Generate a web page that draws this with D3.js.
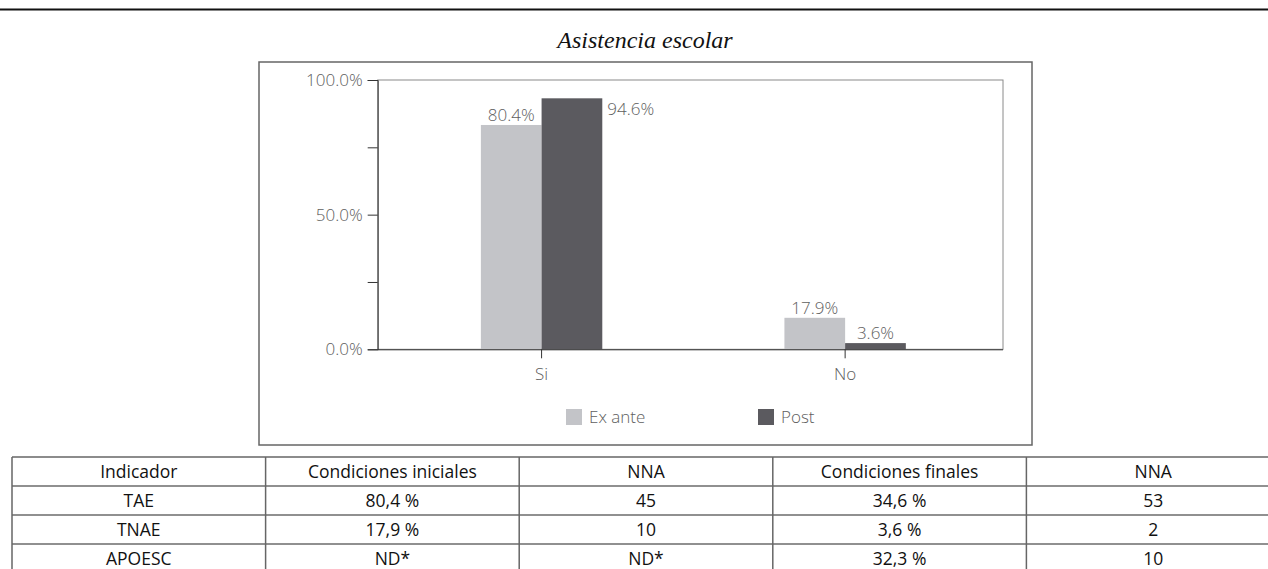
<!DOCTYPE html>
<html>
<head>
<meta charset="utf-8">
<style>
	body { margin: 0; background: #fff; }
	svg { position: absolute; top: 0; left: 0; }
	.lbl { font-family: "Open Sans", sans-serif; font-weight: 300; font-size: 17px; fill: #5e5e5e; }
	.cell { font-family: "Open Sans", sans-serif; font-size: 17.5px; fill: #111; }
</style>
<script src="https://cdnjs.cloudflare.com/ajax/libs/d3/7.8.5/d3.min.js"></script>
</head>
<body>
<svg width="1268" height="569"></svg>
<script>
// chart data
var categories = ["Si", "No"];
var series = ["Ex ante", "Post"];
var exAnte = [83.3, 11.7];       // bar heights as drawn
var post = [93.2, 2.3];
var exAnteLabels = ["80.4%", "17.9%"];  // printed labels
var postLabels = ["94.6%", "3.6%"];
var yTicks = [0, 25, 50, 75, 100];

// table data
var tableHeader = ["Indicador", "Condiciones iniciales", "NNA", "Condiciones finales", "NNA"];
var tableRows = [
	["TAE", "80,4 %", "45", "34,6 %", "53"],
	["TNAE", "17,9 %", "10", "3,6 %", "2"],
	["APOESC", "ND*", "ND*", "32,3 %", "10"]
];

var colors = d3.scaleOrdinal().domain(series).range(["#c3c4c8", "#5b5a5f"]);

var svg = d3.select("svg"),
	width = +svg.attr("width");

// rule at top
svg.append("line").attr("x1", 0).attr("x2", width).attr("y1", 9.5).attr("y2", 9.5)
	.attr("stroke", "#111").attr("stroke-width", 2);

svg.append("text")
	.attr("x", 645).attr("y", 48)
	.attr("text-anchor", "middle")
	.style("font-family", "'Liberation Serif', serif")
	.style("font-style", "italic")
	.style("font-size", "24px")
	.style("fill", "#111")
	.text("Asistencia escolar");

// outer frame
svg.append("rect").attr("x", 259).attr("y", 62).attr("width", 773).attr("height", 383)
	.attr("fill", "none").attr("stroke", "#666").attr("stroke-width", 1.5);

var plot = {left: 377.7, right: 1003, top: 80, bottom: 349.3};

var y = d3.scaleLinear().domain([0, 100]).range([plot.bottom, plot.top]);
var x0 = d3.scaleBand().domain(categories).range([plot.left, plot.right])
	.paddingInner(0.6).paddingOuter(0.33).align(0.515);
var x1 = d3.scaleBand().domain(series).range([0, x0.bandwidth()]);

// plot frame
svg.append("rect").attr("x", plot.left).attr("y", plot.top)
	.attr("width", plot.right - plot.left).attr("height", plot.bottom - plot.top)
	.attr("fill", "none").attr("stroke", "#8a8a8a").attr("stroke-width", 1);

var data = categories.map(function(c, i) {
	return [
		{cat: c, s: series[0], v: exAnte[i], label: exAnteLabels[i]},
		{cat: c, s: series[1], v: post[i], label: postLabels[i]}
	];
});

var groups = svg.append("g").selectAll("g").data(data).enter().append("g")
	.attr("transform", function(d, i) { return "translate(" + x0(categories[i]) + ",0)"; });

groups.selectAll("rect").data(function(d) { return d; }).enter().append("rect")
	.attr("x", function(d) { return x1(d.s); })
	.attr("y", function(d) { return y(d.v); })
	.attr("width", x1.bandwidth())
	.attr("height", function(d) { return y(0) - y(d.v); })
	.attr("fill", function(d) { return colors(d.s); });

// value labels; the tall Post bar has its label beside it
groups.selectAll("text").data(function(d) { return d; }).enter().append("text")
	.attr("class", "lbl")
	.attr("x", function(d) {
		return d.v > 90 ? x1(d.s) + x1.bandwidth() + 5 : x1(d.s) + x1.bandwidth() / 2;
	})
	.attr("y", function(d) { return d.v > 90 ? y(d.v) + 17 : y(d.v) - 4; })
	.attr("text-anchor", function(d) { return d.v > 90 ? "start" : "middle"; })
	.text(function(d) { return d.label; });

// axes
var yAxis = svg.append("g").attr("transform", "translate(" + plot.left + ",0)")
	.call(d3.axisLeft(y).tickValues(yTicks).tickSize(10).tickPadding(5)
		.tickFormat(function(d) { return d % 50 === 0 ? d.toFixed(1) + "%" : ""; }));
var xAxis = svg.append("g").attr("transform", "translate(0," + plot.bottom + ")")
	.call(d3.axisBottom(x0).tickSize(9).tickPadding(10).tickSizeOuter(0));

[yAxis, xAxis].forEach(function(a) {
	a.select(".domain").attr("stroke", "#333");
	a.selectAll(".tick line").attr("stroke", "#333");
	a.selectAll(".tick text").attr("class", "lbl").attr("fill", null).style("font-size", null).style("font-family", null);
	a.attr("font-family", null).attr("font-size", null);
});
xAxis.select(".domain").attr("d", "M" + plot.left + ",0.5H" + plot.right);

// legend
var legendX = d3.scalePoint().domain(series).range([566, 758]);
var legend = svg.append("g").selectAll("g").data(series).enter().append("g")
	.attr("transform", function(d) { return "translate(" + legendX(d) + ",409)"; });
legend.append("rect").attr("width", 16).attr("height", 16).attr("fill", function(d) { return colors(d); });
legend.append("text").attr("class", "lbl").attr("x", 23).attr("y", 14).text(function(d) { return d; });

// table
var colX = d3.scaleBand().domain(d3.range(tableHeader.length)).range([12, 1280]);
var allRows = [tableHeader].concat(tableRows);
var rowY = d3.scaleBand().domain(d3.range(allRows.length)).range([457, 457 + 29 * allRows.length]);
var table = svg.append("g");

table.selectAll(".hline").data(d3.range(1, allRows.length)).enter().append("line")
	.attr("x1", 12).attr("x2", 1280)
	.attr("y1", function(d) { return rowY(d); }).attr("y2", function(d) { return rowY(d); })
	.attr("stroke", "#222").attr("stroke-width", 1.2);
table.append("line").attr("x1", 12).attr("x2", 1280).attr("y1", 457).attr("y2", 457)
	.attr("stroke", "#666").attr("stroke-width", 1.5);
table.selectAll(".vline").data(d3.range(tableHeader.length)).enter().append("line")
	.attr("x1", function(d) { return colX(d); }).attr("x2", function(d) { return colX(d); })
	.attr("y1", 457).attr("y2", 457 + 29 * allRows.length)
	.attr("stroke", "#666").attr("stroke-width", 1.5);

table.selectAll(".row").data(allRows).enter().append("g")
	.each(function(row, ri) {
		d3.select(this).selectAll("text").data(row).enter().append("text")
			.attr("class", "cell")
			.attr("x", function(d, ci) { return colX(ci) + colX.bandwidth() / 2; })
			.attr("y", rowY(ri) + rowY.bandwidth() / 2)
			.attr("dy", "0.35em")
			.attr("text-anchor", "middle")
			.text(function(d) { return d; });
	});
</script>
</body>
</html>
